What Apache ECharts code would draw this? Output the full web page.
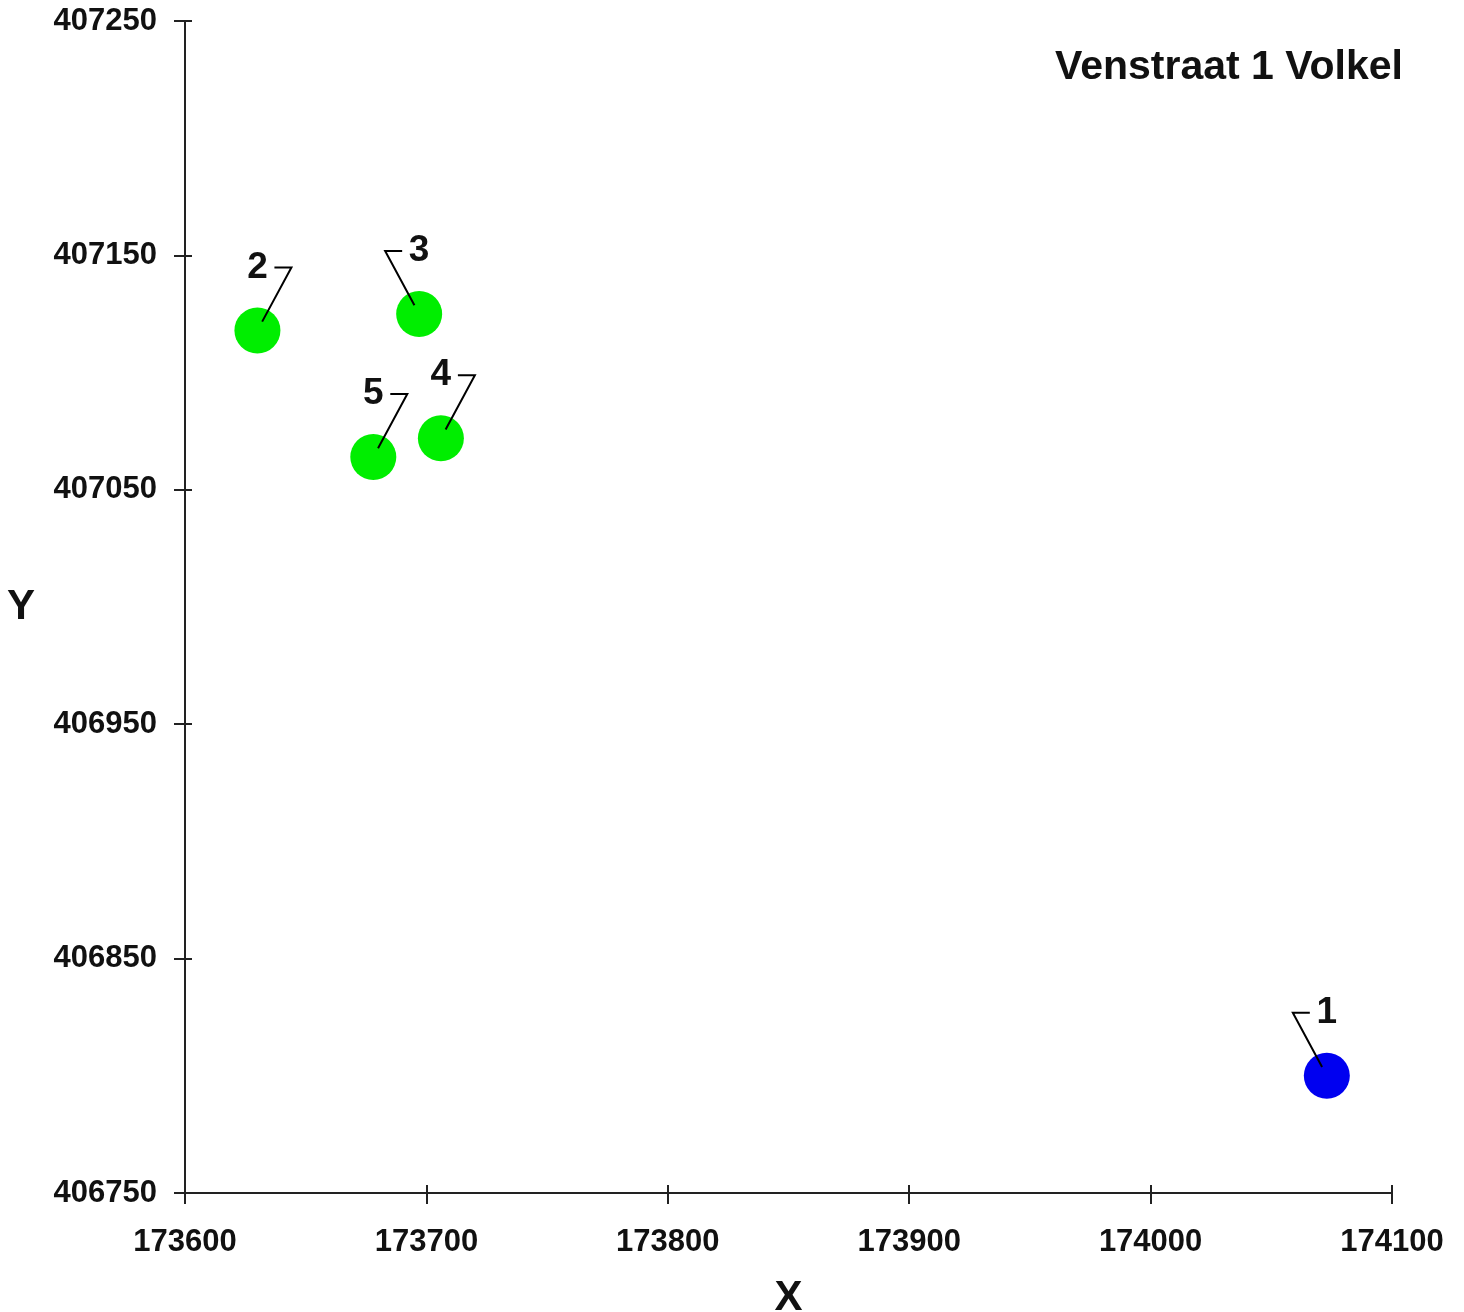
<!DOCTYPE html>
<html>
<head>
<meta charset="utf-8">
<title>Venstraat 1 Volkel</title>
<script src="https://cdn.jsdelivr.net/npm/echarts@6/dist/echarts.min.js"></script>
<style>
  html, body { margin: 0; padding: 0; background: #fff; }
  #chart { width: 1464px; height: 1312px; }
</style>
</head>
<body>
<div id="chart"></div>
<script>
// point data
const pointNames = ['1', '2', '3', '4', '5'];
const xValues = [174073, 173630, 173697, 173706, 173678];
const yValues = [406800, 407118, 407125, 407072, 407064];
const pointGroups = ['blue', 'green', 'green', 'green', 'green'];

const xTicks = [173600, 173700, 173800, 173900, 174000, 174100];
const yTicks = [406750, 406850, 406950, 407050, 407150, 407250];

// which way each leader line leans (-1 left, 1 right)
const leaderSide = [-1, 1, -1, 1, 1];
const groupColors = { blue: '#0000f0', green: '#00ee00' };

const font = '"Liberation Sans", Arial, sans-serif';
const ink = '#111';

const chart = echarts.init(document.getElementById('chart'));

const points = pointNames.map((n, i) => ({
  name: n,
  value: [xValues[i], yValues[i], i],
  itemStyle: { color: groupColors[pointGroups[i]], opacity: 1 }
}));

const baseX = {
  type: 'value',
  min: xTicks[0],
  max: xTicks[xTicks.length - 1],
  interval: xTicks[1] - xTicks[0],
  position: 'bottom',
  splitLine: { show: false }
};
const baseY = {
  type: 'value',
  min: yTicks[0],
  max: yTicks[yTicks.length - 1],
  interval: yTicks[1] - yTicks[0],
  position: 'left',
  splitLine: { show: false }
};

chart.setOption({
  backgroundColor: '#fff',
  animation: false,
  title: {
    text: 'Venstraat 1 Volkel',
    right: 56,
    top: 42,
    textStyle: { fontFamily: font, fontSize: 41, fontWeight: 'bold', color: ink }
  },
  grid: { left: 185, right: 72, top: 21, bottom: 119, outerBoundsMode: 'none', containLabel: false },
  xAxis: [
    Object.assign({}, baseX, {
      name: 'X',
      nameLocation: 'middle',
      nameGap: 84,
      nameTextStyle: { fontFamily: font, fontSize: 42, fontWeight: 'bold', color: ink },
      axisLine: { lineStyle: { color: '#222', width: 2 } },
      axisTick: { length: 11, lineStyle: { color: '#222', width: 2 } },
      axisLabel: {
        margin: 34,
        formatter: v => String(v),
        fontFamily: font, fontSize: 31, fontWeight: 'bold', color: ink
      }
    }),
    Object.assign({}, baseX, {
      axisLine: { show: false },
      axisTick: { inside: true, length: 8, lineStyle: { color: '#222', width: 2 } },
      axisLabel: { show: false }
    })
  ],
  yAxis: [
    Object.assign({}, baseY, {
      name: 'Y',
      nameLocation: 'middle',
      nameRotate: 0,
      nameGap: 150,
      nameTextStyle: { fontFamily: font, fontSize: 42, fontWeight: 'bold', color: ink },
      axisLine: { lineStyle: { color: '#222', width: 2 } },
      axisTick: { length: 11, lineStyle: { color: '#222', width: 2 } },
      axisLabel: {
        margin: 28,
        formatter: v => String(v),
        fontFamily: font, fontSize: 31, fontWeight: 'bold', color: ink
      }
    }),
    Object.assign({}, baseY, {
      axisLine: { show: false },
      axisTick: { inside: true, length: 7, lineStyle: { color: '#222', width: 2 } },
      axisLabel: { show: false }
    })
  ],
  series: [
    {
      type: 'scatter',
      symbol: 'circle',
      symbolSize: 46,
      data: points,
      z: 2
    },
    {
      // labels with their bent leader lines
      type: 'custom',
      z: 3,
      data: points.map(p => p.value),
      renderItem: function (params, api) {
        const c = api.coord([api.value(0), api.value(1)]);
        const i = api.value(2);
        const side = leaderSide[i];
        const up = 63;
        const corner = [c[0] + side * 34, c[1] - up];
        const len = Math.hypot(corner[0] - c[0], corner[1] - c[1]);
        const start = [c[0] + (corner[0] - c[0]) * 10 / len, c[1] + (corner[1] - c[1]) * 10 / len];
        return {
          type: 'group',
          children: [
            {
              type: 'polyline',
              shape: { points: [start, corner, [c[0] + side * 17, c[1] - up]] },
              style: { stroke: '#000', lineWidth: 2, fill: null }
            },
            {
              type: 'text',
              x: c[0],
              y: c[1] - up,
              style: {
                text: pointNames[i],
                fontFamily: font,
                fontSize: 37,
                fontWeight: 'bold',
                fill: ink,
                align: 'center',
                verticalAlign: 'middle'
              }
            }
          ]
        };
      }
    }
  ]
});
</script>
</body>
</html>
